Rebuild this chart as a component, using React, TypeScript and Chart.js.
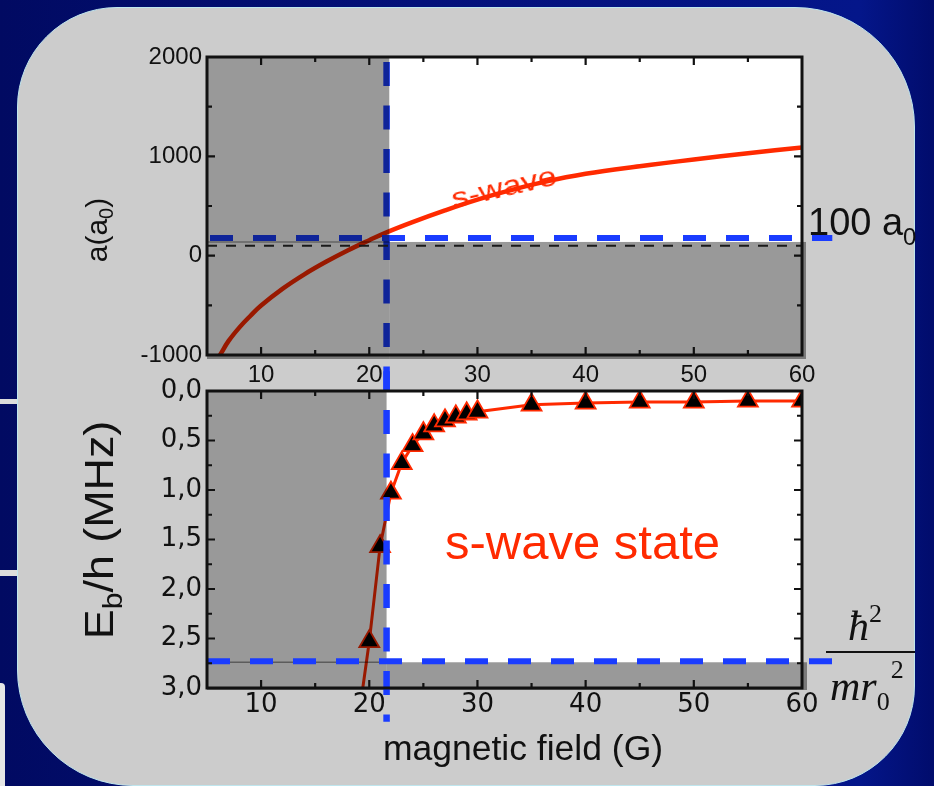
import React, { useEffect, useRef } from "react";
import { Chart, registerables } from "chart.js";

Chart.register(...registerables);

// ---------------- data ----------------
// upper panel: scattering length a (in a0) vs magnetic field (G)
const fieldA = [6.2, 7, 8, 9, 10, 12, 14, 16, 18, 20, 21.6, 24, 27, 30, 33, 36, 40, 45, 50, 55, 60];
const scatteringLength = [-1000, -858, -722, -607, -502, -332, -188, -62, 52, 156, 235, 338, 456, 564, 657, 738, 824, 901, 969, 1031, 1089];

// lower panel: binding energy Eb/h (MHz) vs magnetic field (G)
const fieldEb = [19.4, 20, 21, 22, 23, 24, 25, 26, 27, 28, 29, 30, 35, 40, 45, 50, 55, 60];
const bindingEnergy = [3.0, 2.53, 1.57, 1.03, 0.73, 0.55, 0.43, 0.35, 0.3, 0.26, 0.23, 0.21, 0.14, 0.12, 0.11, 0.11, 0.1, 0.1];
const hasMarker = [false, true, true, true, true, true, true, true, true, true, true, true, true, true, true, true, true, true];

// axes
const fieldRange = [5, 60];
const aRange = [-1000, 2000];
const ebRange = [0, 3];
const fieldTicks = [10, 20, 30, 40, 50, 60];
const fieldMinorTicks = [15, 25, 35, 45, 55];
const aTicks = [-1000, 0, 1000, 2000];
const aMajorInner = [0, 1000];
const aMinorTicks = [-500, 500, 1500];
const ebTicks = [0, 0.5, 1, 1.5, 2, 2.5, 3];
const ebMajorInner = [0.5, 1, 1.5, 2, 2.5];
const ebMinorTicks = [0.25, 0.75, 1.25, 1.75, 2.25, 2.75];

// reference lines / shaded regions
const criticalField = 21.6;
const shadeFieldTop = 21.85;
const aLimit = 178;
const aBackground = 100;
const aShadeTop = 138;
const ebLimit = 2.73;
const ebShadeTop = 2.74;
const blueLineEndField = 62.8;
const vLineEndA = -1350;
const vLineStartEb = -0.2;
const vLineEndEb = 3.34;

// ---------------- styles ----------------
const RED = "#ff2a00";
const BLUE = "#1a3cff";
const SHADE = "rgba(0,0,0,0.4)";
const DASH = [24, 19.5];
const DASH_PERIOD = 43.5;
const DASH_PHASE_Y = 62;

function dashedLine(ctx: CanvasRenderingContext2D, x0: number, y0: number, x1: number, y1: number, color: string, width: number, dash: number[], offset: number) {
  ctx.save();
  ctx.strokeStyle = color;
  ctx.lineWidth = width;
  ctx.lineCap = "butt";
  ctx.setLineDash(dash);
  ctx.lineDashOffset = offset;
  ctx.beginPath();
  ctx.moveTo(x0, y0);
  ctx.lineTo(x1, y1);
  ctx.stroke();
  ctx.restore();
}

function vOffset(y0: number) {
  return (((y0 - DASH_PHASE_Y) % DASH_PERIOD) + DASH_PERIOD) % DASH_PERIOD;
}

function drawFrame(chart: any, xMaj: number[], xMin: number[], yMaj: number[], yMin: number[]) {
  const { ctx, chartArea: a } = chart;
  const xs = chart.scales.x;
  const ys = chart.scales.y;
  ctx.save();
  ctx.setLineDash([]);
  ctx.strokeStyle = "#111";
  ctx.lineWidth = 2.2;
  ctx.beginPath();
  const xt = (v: number, len: number) => {
    const p = xs.getPixelForValue(v);
    ctx.moveTo(p, a.bottom);
    ctx.lineTo(p, a.bottom - len);
    ctx.moveTo(p, a.top);
    ctx.lineTo(p, a.top + len);
  };
  const yt = (v: number, len: number) => {
    const p = ys.getPixelForValue(v);
    ctx.moveTo(a.left, p);
    ctx.lineTo(a.left + len, p);
    ctx.moveTo(a.right, p);
    ctx.lineTo(a.right - len, p);
  };
  xMaj.forEach((v) => xt(v, 8));
  xMin.forEach((v) => xt(v, 5));
  yMaj.forEach((v) => yt(v, 8));
  yMin.forEach((v) => yt(v, 5));
  ctx.stroke();
  ctx.lineWidth = 3;
  ctx.strokeRect(a.left, a.top, a.right - a.left, a.bottom - a.top);
  ctx.restore();
}

const whiteBg = {
  id: "whiteBg",
  beforeDatasetsDraw(chart: any) {
    const { ctx, chartArea: a } = chart;
    ctx.save();
    ctx.fillStyle = "#ffffff";
    ctx.fillRect(a.left, a.top, a.right - a.left, a.bottom - a.top);
    ctx.restore();
  },
};

const topDecor = {
  id: "topDecor",
  afterDatasetsDraw(chart: any) {
    const { ctx, chartArea: a } = chart;
    const xs = chart.scales.x;
    const ys = chart.scales.y;
    const xc = xs.getPixelForValue(criticalField);
    const yl = ys.getPixelForValue(aLimit);
    // blue reference lines (below the shading)
    dashedLine(ctx, a.left + 3, yl, xs.getPixelForValue(blueLineEndField), yl, BLUE, 6, [23, 20], 0);
    const yv1 = ys.getPixelForValue(vLineEndA);
    dashedLine(ctx, xc, a.top, xc, yv1, BLUE, 6.5, DASH, vOffset(a.top));
    // shading
    const xs2 = xs.getPixelForValue(shadeFieldTop);
    const ysh = ys.getPixelForValue(aShadeTop);
    ctx.save();
    ctx.fillStyle = SHADE;
    ctx.fillRect(a.left, a.top, xs2 - a.left, a.bottom + 4 - a.top);
    ctx.fillRect(xs2, ysh, a.right + 4 - xs2, a.bottom + 4 - ysh);
    ctx.strokeStyle = "rgba(0,0,0,0.35)";
    ctx.lineWidth = 1.5;
    ctx.beginPath();
    ctx.moveTo(a.left, ysh);
    ctx.lineTo(xs2, ysh);
    ctx.stroke();
    ctx.restore();
    // black dashed background line
    const yb = ys.getPixelForValue(aBackground);
    dashedLine(ctx, a.left, yb, a.right, yb, "#1a1a1a", 2.2, [10, 9], 0);
    drawFrame(chart, fieldTicks.slice(0, -1), fieldMinorTicks, aMajorInner, aMinorTicks);
  },
};

const bottomDecor = {
  id: "bottomDecor",
  afterDatasetsDraw(chart: any) {
    const { ctx, chartArea: a } = chart;
    const xs = chart.scales.x;
    const ys = chart.scales.y;
    const xc = xs.getPixelForValue(criticalField);
    const ysh = ys.getPixelForValue(ebShadeTop);
    ctx.save();
    ctx.fillStyle = SHADE;
    ctx.fillRect(a.left, a.top, xc - a.left, a.bottom + 2 - a.top);
    ctx.fillRect(xc, ysh, a.right + 5 - xc, a.bottom + 2 - ysh);
    ctx.strokeStyle = "rgba(0,0,0,0.4)";
    ctx.lineWidth = 1.5;
    ctx.beginPath();
    ctx.moveTo(a.left, ysh);
    ctx.lineTo(xc, ysh);
    ctx.stroke();
    ctx.restore();
    const yl = ys.getPixelForValue(ebLimit);
    dashedLine(ctx, a.left, yl, xs.getPixelForValue(blueLineEndField), yl, BLUE, 6, [23, 20], 0);
    const y0 = ys.getPixelForValue(vLineStartEb);
    const y1 = ys.getPixelForValue(vLineEndEb);
    dashedLine(ctx, xc, y0, xc, y1, BLUE, 6.5, DASH, vOffset(y0));
    drawFrame(chart, fieldTicks.slice(0, -1), fieldMinorTicks, ebMajorInner, ebMinorTicks);
  },
};

function makeScale(range: number[], ticks: number[], font: any, padding: number, fit: (s: any) => void, extra: any = {}) {
  return {
    type: "linear",
    min: range[0],
    max: range[1],
    grid: { display: false, drawTicks: false },
    border: { display: false },
    ticks: {
      font,
      color: "#111",
      padding,
      autoSkip: false,
      maxRotation: 0,
      minRotation: 0,
      callback: (v: any) => String(v),
      ...(extra.ticks || {}),
    },
    afterBuildTicks: (s: any) => {
      s.ticks = ticks.map((v) => ({ value: v }));
    },
    afterFit: fit,
    ...(extra.rest || {}),
  };
}

const commonOptions = {
  responsive: false,
  maintainAspectRatio: false,
  animation: false,
  devicePixelRatio: 1,
  events: [],
  plugins: { legend: { display: false }, tooltip: { enabled: false }, title: { display: false } },
};

const topFont = { family: "'Liberation Sans', Arial, sans-serif", size: 24 };
const bottomFont = { family: "'DejaVu Sans', sans-serif", size: 26 };

function topConfig(): any {
  return {
    type: "scatter",
    data: {
      datasets: [
        {
          data: fieldA.map((x, i) => ({ x, y: scatteringLength[i] })),
          showLine: true,
          borderColor: RED,
          borderWidth: 4.5,
          pointRadius: 0,
          tension: 0.4,
          fill: false,
        },
      ],
    },
    options: {
      ...commonOptions,
      layout: { padding: { left: 97, right: 132, top: 57, bottom: 391 } },
      scales: {
        x: makeScale(fieldRange, fieldTicks, topFont, 6, (s: any) => { s.height = 40; }, { rest: { position: "bottom" } }),
        y: makeScale(aRange, aTicks, topFont, 5, (s: any) => { s.width = 110; }, { rest: { position: "left" } }),
      },
    },
    plugins: [whiteBg, topDecor],
  };
}

function bottomConfig(): any {
  return {
    type: "scatter",
    data: {
      datasets: [
        {
          data: fieldEb.map((x, i) => ({ x, y: bindingEnergy[i] })),
          showLine: true,
          borderColor: RED,
          borderWidth: 3,
          tension: 0,
          pointStyle: "triangle",
          pointRadius: hasMarker.map((m) => (m ? 11.5 : 0)),
          pointBackgroundColor: "#000",
          pointBorderColor: RED,
          pointBorderWidth: 1.8,
          fill: false,
        },
      ],
    },
    options: {
      ...commonOptions,
      layout: { padding: { left: 97, right: 132, top: 391, bottom: 58 } },
      scales: {
        x: makeScale(fieldRange, fieldTicks, bottomFont, 2, (s: any) => { s.height = 40; }, { rest: { position: "bottom" } }),
        y: makeScale(ebRange, ebTicks, bottomFont, 5, (s: any) => { s.width = 110; }, {
          rest: { position: "left", reverse: true },
          ticks: { callback: (v: any) => Number(v).toFixed(1).replace(".", ",") },
        }),
      },
    },
    plugins: [whiteBg, bottomDecor],
  };
}

const abs: React.CSSProperties = { position: "absolute", whiteSpace: "nowrap", lineHeight: 1 };
const sans = "'Liberation Sans', Arial, sans-serif";
const serif = "'Liberation Serif', 'Times New Roman', serif";

export default function App() {
  const topRef = useRef<HTMLCanvasElement>(null);
  const botRef = useRef<HTMLCanvasElement>(null);

  useEffect(() => {
    const c1 = new Chart(topRef.current as HTMLCanvasElement, topConfig());
    const c2 = new Chart(botRef.current as HTMLCanvasElement, bottomConfig());
    return () => {
      c1.destroy();
      c2.destroy();
    };
  }, []);

  const canvasStyle: React.CSSProperties = { position: "absolute", left: 0, top: 0, width: 934, height: 786 };

  return (
    <div
      style={{
        position: "fixed",
        left: 0,
        top: 0,
        width: 934,
        height: 786,
        overflow: "hidden",
        background: "linear-gradient(90deg, #010a62 0%, #03117a 45%, #04168a 92%, #010c6c 100%)",
      }}
    >
      {/* slide decorations behind the panel */}
      <div style={{ position: "absolute", left: 0, top: 399, width: 30, height: 5, background: "#dcdcdc" }} />
      <div style={{ position: "absolute", left: 0, top: 570, width: 30, height: 6, background: "#dcdcdc" }} />
      <div style={{ position: "absolute", left: 0, top: 683, width: 5, height: 110, background: "#e6e6e6", borderTopRightRadius: 4 }} />
      {/* light grey rounded panel */}
      <div
        style={{
          position: "absolute",
          left: 17,
          top: 7,
          width: 896,
          height: 777,
          background: "#cccccc",
          border: "1.5px solid #bfe6ee",
          borderRadius: "100px 120px 100px 116px",
        }}
      />
      <canvas ref={topRef} width={934} height={786} style={canvasStyle} />
      <canvas ref={botRef} width={934} height={786} style={canvasStyle} />

      {/* axis titles */}
      <div style={{ ...abs, left: 97, top: 230, font: `30px ${sans}`, color: "#111", transform: "translate(-50%, -50%) rotate(-90deg)" }}>
        a(a<span style={{ fontSize: 20, position: "relative", top: 6 }}>0</span>)
      </div>
      <div style={{ ...abs, left: 99, top: 530, font: `40px ${sans}`, color: "#111", transform: "translate(-50%, -50%) rotate(-90deg) scaleX(1.12)" }}>
        E<span style={{ fontSize: 27, position: "relative", top: 9 }}>b</span>/h (MHz)
      </div>
      <div style={{ ...abs, left: 523, top: 748, font: `35.5px ${sans}`, color: "#111", transform: "translate(-50%, -50%)" }}>
        magnetic field (G)
      </div>

      {/* annotations */}
      <div style={{ ...abs, left: 504, top: 188, font: `27px ${sans}`, color: RED, transform: "translate(-50%, -50%) rotate(-13deg) scaleX(1.25)" }}>
        s-wave
      </div>
      <div style={{ ...abs, left: 808, top: 201, font: `38px ${sans}`, color: "#111" }}>
        100 a<span style={{ fontSize: 24, position: "relative", top: 10 }}>0</span>
      </div>
      <div style={{ ...abs, left: 445, top: 514, font: `49px ${sans}`, color: RED }}>s-wave state</div>

      {/* hbar^2 / (m r0^2) */}
      <div style={{ ...abs, left: 848, top: 602, font: `italic 42px ${serif}`, color: "#111" }}>
        ħ<span style={{ fontStyle: "normal", fontSize: 26, position: "relative", top: -18 }}>2</span>
      </div>
      <div style={{ position: "absolute", left: 826, top: 651, width: 89, height: 1.5, background: "#111" }} />
      <div style={{ ...abs, left: 830, top: 662, font: `italic 42px ${serif}`, color: "#111" }}>
        mr<span style={{ fontStyle: "normal", fontSize: 26, position: "relative", top: 10 }}>0</span>
        <span style={{ fontStyle: "normal", fontSize: 26, position: "relative", top: -22, marginLeft: 1 }}>2</span>
      </div>
    </div>
  );
}
